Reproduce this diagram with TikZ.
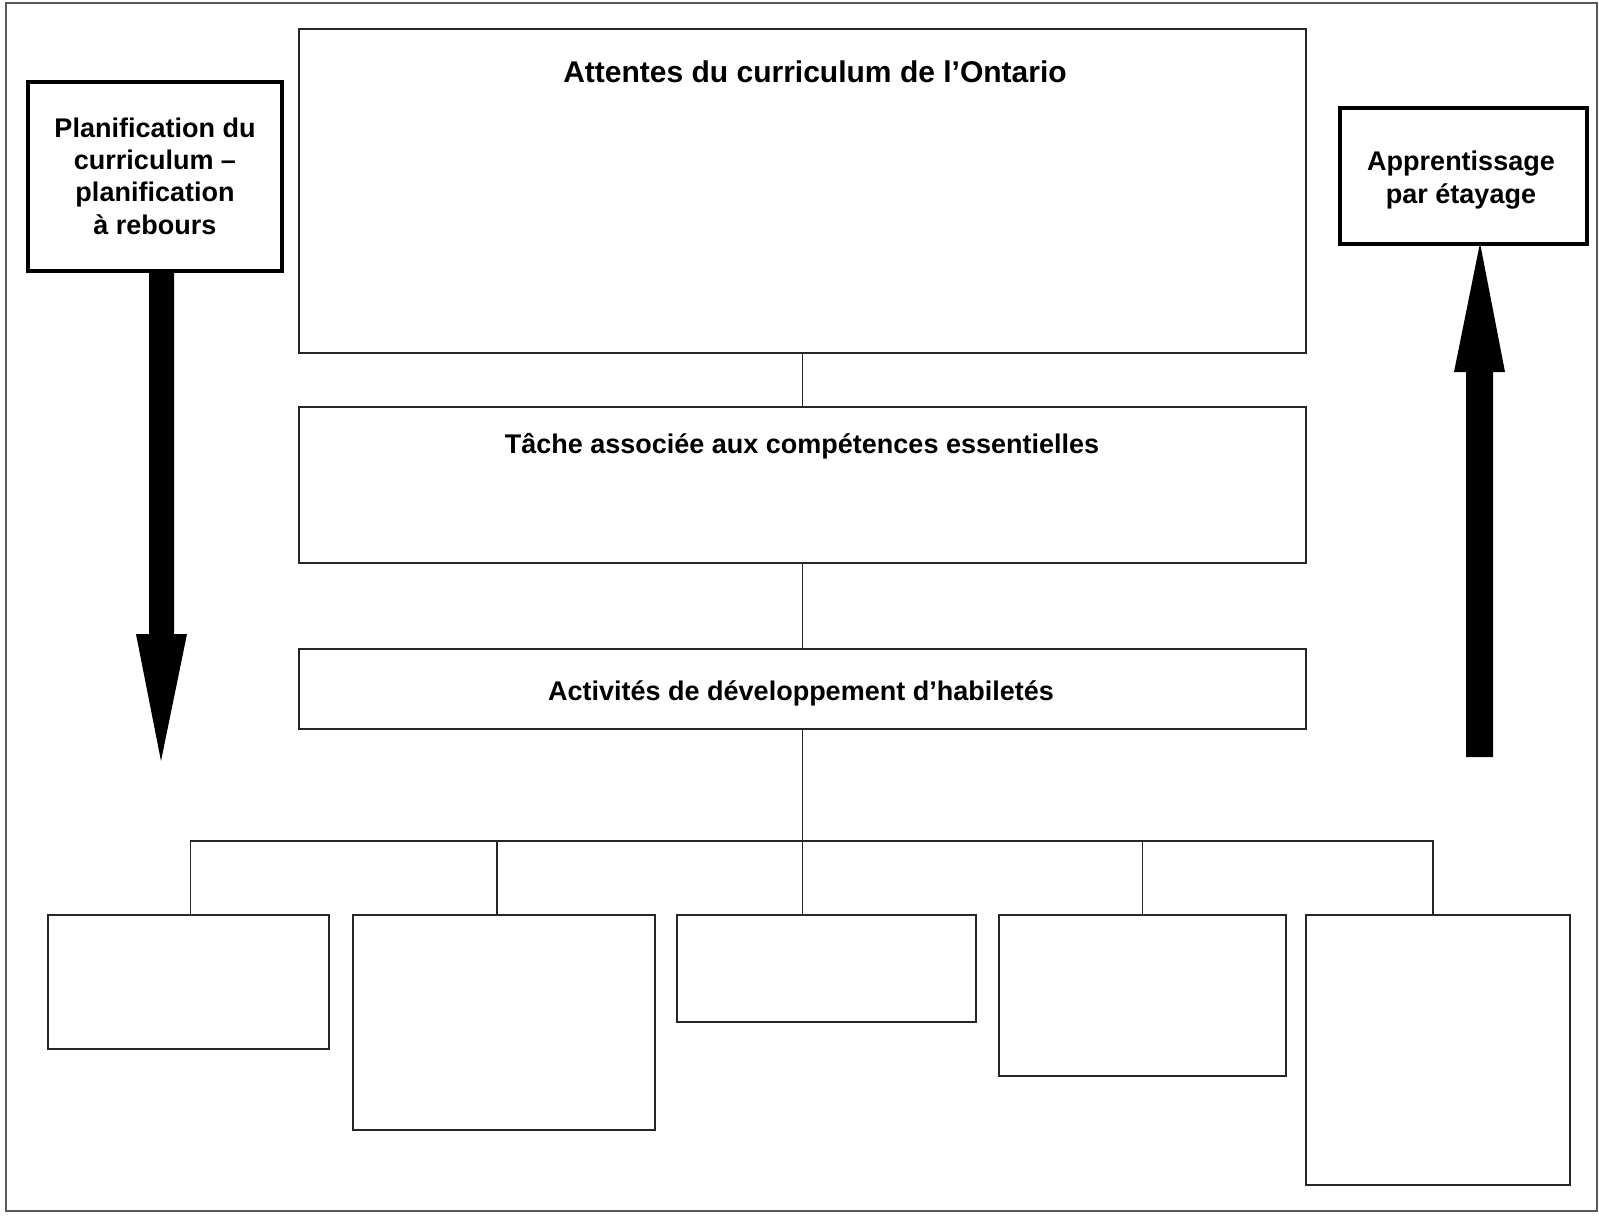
\documentclass[tikz,border=0pt]{standalone}
\usepackage{fontspec}
\setmainfont{Liberation Sans}
\usetikzlibrary{calc}
\begin{document}
\begin{tikzpicture}[x=0.5pt,y=-0.5pt,
  box/.style={draw=black!85, line width=0.85pt, inner sep=0pt, rectangle},
  thickbox/.style={draw=black, line width=1.6pt, inner sep=0pt, rectangle},
  conn/.style={draw=black!85, line width=0.85pt},
  lbl/.style={font=\bfseries\fontsize{13.5}{16.15}\selectfont, align=center, inner sep=0pt},
  bigarrow/.style={fill=black}]
\useasboundingbox (0,0) rectangle (1599,1215);
\node[draw=black!65, line width=1pt, minimum width=795.5pt, minimum height=604pt, inner sep=0pt] (frame) at (801.5,607) {};
% main column
\node[box, minimum width=503.5pt, minimum height=162pt] (top) at (802.5,191) {};
\node[lbl, font=\bfseries\fontsize{15}{18}\selectfont, anchor=base] (ttl) at (815,82.5) {Attentes du curriculum de l’Ontario};
\node[box, minimum width=503.5pt, minimum height=78pt] (mid) at (802.5,485) {};
\node[lbl, anchor=base] (midt) at (802,453.5) {Tâche associée aux compétences essentielles};
\node[box, minimum width=503.5pt, minimum height=40pt] (act) at (802.5,689) {};
\node[lbl, anchor=base] (actt) at (801,700) {Activités de développement d’habiletés};
% side boxes
\node[thickbox, minimum width=127pt, minimum height=94.5pt] (lbox) at (155,176.5) {};
\node[lbl] (lboxt) at (155,176) {Planification du\\curriculum –\\planification\\à rebours};
\node[thickbox, minimum width=123.5pt, minimum height=68pt] (rbox) at (1463.5,176) {};
\node[lbl] (rboxt) at (1461,180) {Apprentissage\\par étayage};
% bottom boxes
\node[box, minimum width=140.5pt, minimum height=67pt] (b1) at (188.5,982) {};
\node[box, minimum width=151pt, minimum height=107.5pt] (b2) at (504,1022.5) {};
\node[box, minimum width=149.5pt, minimum height=53.5pt] (b3) at (826.5,968.5) {};
\node[box, minimum width=143.5pt, minimum height=80.5pt] (b4) at (1142.5,995.5) {};
\node[box, minimum width=132pt, minimum height=135pt] (b5) at (1438,1050) {};
% connectors
\draw[conn] (top.south) -- (mid.north);
\draw[conn] (mid.south) -- (act.north);
\draw[conn] (act.south) -- (act.south |- b3.north);
\coordinate (bar) at (802.5,841);
\draw[conn] ($(b1.north)+(2,0)$) |- (bar) -| ($(b5.north)+(-5,0)$);
\draw[conn] ($(b2.north)+(-7,0)$) -- ++(0,-74);
\draw[conn] (b4.north) -- (b4.north |- bar);
% big arrows
\coordinate (ltip) at (161,761);
\coordinate (rtip) at (1480,243);
\fill[bigarrow] (149,271) -- (149,634) -- (136,634) -- (ltip) -- (187,634) -- (174,634) -- (174,271) -- cycle;
\fill[bigarrow] (1466,757) -- (1466,372) -- (1454,372) -- (rtip) -- (1505,372) -- (1493,372) -- (1493,757) -- cycle;
\end{tikzpicture}
\end{document}
